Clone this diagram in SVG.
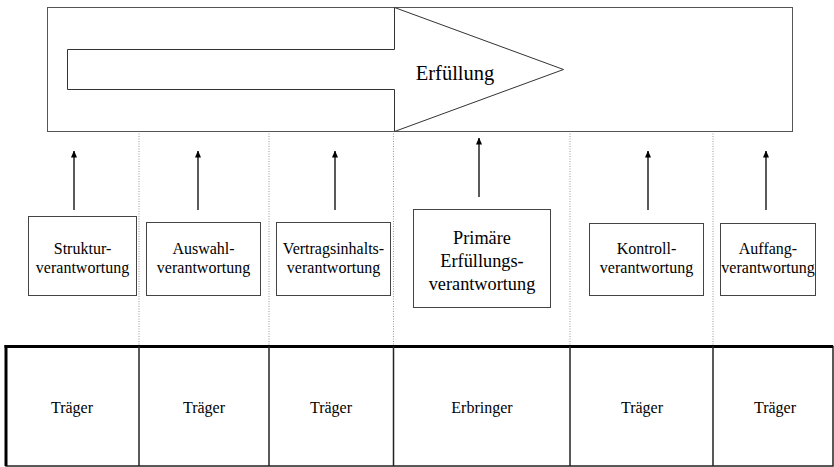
<svg xmlns="http://www.w3.org/2000/svg" width="834" height="467" viewBox="0 0 834 467">
<defs>
<marker id="ah" viewBox="0 0 7 6" refX="6.5" refY="3" markerWidth="7" markerHeight="6" markerUnits="userSpaceOnUse" orient="auto">
<path d="M0,0 L7,3 L0,6 Z" fill="#000"/>
</marker>
<style>
text{font-family:'Liberation Serif','DejaVu Serif',serif;fill:#000;text-anchor:middle}
.s{font-size:16px}
.b{font-size:18.3px}
.c{font-size:16px}
.box{fill:#fff;stroke:#444;stroke-width:1}
.dot{stroke:#999;stroke-width:1;stroke-dasharray:1 1.5;fill:none}
.arr{stroke:#000;stroke-width:1.3;fill:none}
.cell{fill:none;stroke:#222;stroke-width:1.5}
</style>
</defs>
<rect width="834" height="467" fill="#fff"/>

<g id="dividers">
<line class="dot" x1="139" y1="131" x2="139" y2="346"/>
<line class="dot" x1="269" y1="131" x2="269" y2="346"/>
<line class="dot" x1="393.5" y1="131" x2="393.5" y2="346"/>
<line class="dot" x1="570" y1="131" x2="570" y2="346"/>
<line class="dot" x1="713" y1="131" x2="713" y2="346"/>
</g>

<g id="erfuellung">
<rect x="47.5" y="7.5" width="745" height="124" fill="#fff" stroke="#555" stroke-width="1"/>
<polygon points="67.5,49.5 394.5,49.5 394.5,7.5 563.5,69.5 394.5,131.5 394.5,89.5 67.5,89.5" fill="#fff" stroke="#333" stroke-width="1"/>
<text x="455" y="80" font-family="Liberation Serif, DejaVu Serif, serif" font-size="20.5">Erfüllung</text>
</g>

<g id="connectors">
<line class="arr" x1="74" y1="210" x2="74" y2="151" marker-end="url(#ah)"/>
<line class="arr" x1="198" y1="210" x2="198" y2="151" marker-end="url(#ah)"/>
<line class="arr" x1="335" y1="210" x2="335" y2="151" marker-end="url(#ah)"/>
<line class="arr" x1="479" y1="197" x2="479" y2="138" marker-end="url(#ah)"/>
<line class="arr" x1="648" y1="210" x2="648" y2="151" marker-end="url(#ah)"/>
<line class="arr" x1="766" y1="210" x2="766" y2="151" marker-end="url(#ah)"/>
</g>

<g id="n1" font-family="Liberation Serif, DejaVu Serif, serif">
<rect class="box" x="28.5" y="216.5" width="108" height="79"/>
<text class="s" x="82.5" y="254">Struktur-</text>
<text class="s" x="82.5" y="273">verantwortung</text>
</g>
<g id="n2" font-family="Liberation Serif, DejaVu Serif, serif">
<rect class="box" x="146.5" y="222.5" width="114" height="73"/>
<text class="s" x="203.5" y="254">Auswahl-</text>
<text class="s" x="203.5" y="273">verantwortung</text>
</g>
<g id="n3" font-family="Liberation Serif, DejaVu Serif, serif">
<rect class="box" x="276.5" y="222.5" width="114" height="73"/>
<text class="s" x="333.5" y="254">Vertragsinhalts-</text>
<text class="s" x="333.5" y="273">verantwortung</text>
</g>
<g id="n4" font-family="Liberation Serif, DejaVu Serif, serif">
<rect class="box" x="413.5" y="209.5" width="137" height="98"/>
<text class="b" x="482" y="244">Primäre</text>
<text class="b" x="482" y="267">Erfüllungs-</text>
<text class="b" x="482" y="290">verantwortung</text>
</g>
<g id="n5" font-family="Liberation Serif, DejaVu Serif, serif">
<rect class="box" x="589.5" y="223.5" width="114" height="72"/>
<text class="s" x="646.5" y="254">Kontroll-</text>
<text class="s" x="646.5" y="273">verantwortung</text>
</g>
<g id="n6" font-family="Liberation Serif, DejaVu Serif, serif">
<rect class="box" x="720.5" y="223.5" width="95" height="72"/>
<text class="s" x="768" y="254">Auffang-</text>
<text class="s" x="768" y="273">verantwortung</text>
</g>

<g id="table" font-family="Liberation Serif, DejaVu Serif, serif">
<rect class="cell" x="6" y="346.5" width="827" height="119.5"/>
<line x1="4.5" y1="346.5" x2="833" y2="346.5" stroke="#000" stroke-width="3"/>
<line x1="6" y1="345" x2="6" y2="466" stroke="#000" stroke-width="3"/>
<line class="cell" x1="139" y1="346" x2="139" y2="466"/>
<line class="cell" x1="269" y1="346" x2="269" y2="466"/>
<line class="cell" x1="393.5" y1="346" x2="393.5" y2="466"/>
<line class="cell" x1="570" y1="346" x2="570" y2="466"/>
<line class="cell" x1="713" y1="346" x2="713" y2="466"/>
<text class="c" x="72" y="413">Träger</text>
<text class="c" x="204" y="413">Träger</text>
<text class="c" x="331" y="413">Träger</text>
<text class="c" x="482" y="413">Erbringer</text>
<text class="c" x="642" y="413">Träger</text>
<text class="c" x="775" y="413">Träger</text>
</g>
</svg>
